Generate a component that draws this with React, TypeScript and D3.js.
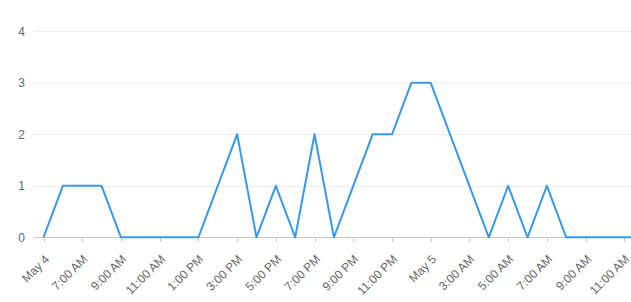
import React from "react";
import * as d3 from "d3";

const startTime = Date.UTC(2024, 4, 4, 5, 0);
const values = [0, 1, 1, 1, 0, 0, 0, 0, 0, 1, 2, 0, 1, 0, 2, 0, 1, 2, 2, 3, 3, 2, 1, 0, 1, 0, 1, 0, 0, 0, 0, 0];
const tickLabels = [
  "May 4", "7:00 AM", "9:00 AM", "11:00 AM", "1:00 PM", "3:00 PM", "5:00 PM", "7:00 PM",
  "9:00 PM", "11:00 PM", "May 5", "3:00 AM", "5:00 AM", "7:00 AM", "9:00 AM", "11:00 AM",
];
const yTicks = [0, 1, 2, 3, 4];

const W = 631;
const H = 302;

export default function App() {
  const data = values.map((v, i) => ({ t: new Date(startTime + i * 3600000), v }));
  const x = d3
    .scaleUtc()
    .domain([new Date(startTime), new Date(startTime + 30 * 3600000)])
    .range([43.5, 624.3]);
  const y = d3.scaleLinear().domain([0, 4]).range([237.3, 31.3]);
  const line = d3
    .line<{ t: Date; v: number }>()
    .x((d) => x(d.t))
    .y((d) => y(d.v));
  const ticks = tickLabels.map((l, i) => ({ l, t: new Date(startTime + i * 2 * 3600000) }));
  const font = "'Liberation Sans', Arial, sans-serif";
  return (
    <svg width={W} height={H} style={{ position: "absolute", left: 0, top: 0 }} fontFamily={font}>
      <rect width={W} height={H} fill="#fff" />
      {yTicks.map((t) => (
        <g key={t}>
          <line x1={34} x2={W} y1={Math.round(y(t)) + 0.5} y2={Math.round(y(t)) + 0.5} stroke={t === 0 ? "#c8c8c8" : "#ebebeb"} strokeWidth={1} />
          <text x={25} y={y(t)} dy="0.35em" textAnchor="end" fontSize={12} fill="#666">
            {t}
          </text>
        </g>
      ))}
      {ticks.map((tk, i) => {
        const tx = Math.round(x(tk.t)) + 0.5;
        return (
          <g key={i}>
            <line x1={tx} x2={tx} y1={237.5} y2={242} stroke="#c8c8c8" />
            <text
              transform={`translate(${tx + 2.5},${257}) rotate(-45)`}
              textAnchor="end"
              dy="0.35em"
              fontSize={12}
              fill="#666"
            >
              {tk.l}
            </text>
          </g>
        );
      })}
      <path d={line(data) || ""} fill="none" stroke="#3b98e6" strokeWidth={2} strokeLinejoin="round" />
    </svg>
  );
}
